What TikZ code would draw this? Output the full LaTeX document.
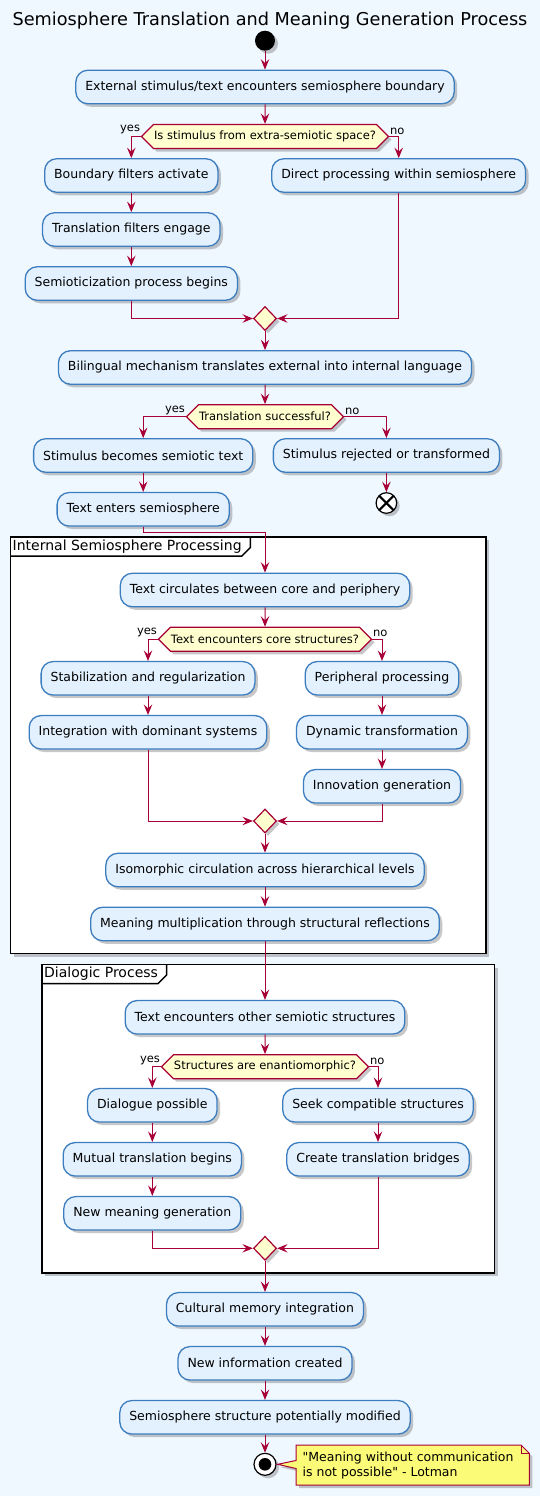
\documentclass[tikz,border=0pt]{standalone}
\usepackage{fontspec}
\setmainfont{DejaVu Sans}
\usetikzlibrary{arrows.meta,shapes.geometric,shapes.symbols,shadows,calc}
\definecolor{bgc}{HTML}{F0F8FF}
\definecolor{actf}{HTML}{E3F0FD}
\definecolor{actb}{HTML}{3C7DBF}
\definecolor{arrc}{HTML}{A80036}
\definecolor{dfill}{HTML}{FEFECE}
\definecolor{notef}{HTML}{FBFB77}
\tikzset{
  shd/.style={drop shadow={shadow xshift=3pt,shadow yshift=-3pt,opacity=0.22,fill=black}},
  act/.style={rectangle, rounded corners=12pt, draw=actb, fill=actf, line width=1.3pt,
    minimum height=33.5pt, inner xsep=9.5pt, text=black,
    font=\fontsize{12.5}{15}\selectfont, shd},
  dec/.style={signal, signal to=west and east, signal pointer angle=90, draw=arrc,
    fill=dfill, line width=1.2pt, minimum height=24pt, inner xsep=0.5pt, inner ysep=0pt,
    font=\fontsize{11.5}{13}\selectfont, shd},
  mrg/.style={diamond, draw=arrc, fill=dfill, line width=1.2pt, minimum width=23pt,
    minimum height=24pt, inner sep=0pt, shd},
  flow/.style={draw=arrc, line width=1pt, -{Stealth[length=10.5pt,width=8.5pt,inset=4pt]}},
  lbl/.style={font=\fontsize{11.5}{13}\selectfont, inner sep=0.5pt},
  grp/.style={draw=black, line width=1.8pt, fill=white, shd},
  grplbl/.style={font=\fontsize{14}{16}\selectfont, inner sep=0pt, anchor=west},
  notestyle/.style={draw=arrc, line width=1pt, fill=notef, shd},
}
\begin{document}
\begin{tikzpicture}[x=1pt,y=-1pt]
\fill[bgc] (0,0) rectangle (540,1496);
\useasboundingbox (0,0) rectangle (540,1496);

% groups
\draw[grp] (10.5,537) rectangle (486,953.5);
\node[grplbl] (g1lab) at (12.5,546.5) {Internal Semiosphere Processing};
\draw[black, line width=1.5pt] (10.5,556) -- (g1lab.east |- 0,556) -- ++(8.5,-8.5) -- ++(0,-10.5);
\draw[grp] (42,964.5) rectangle (494.5,1272.7);
\node[grplbl] (g2lab) at (44,973.8) {Dialogic Process};
\draw[black, line width=1.5pt] (42,983.5) -- (g2lab.east |- 0,983.5) -- ++(8.5,-8.5) -- ++(0,-10.5);

% title
\node[font=\fontsize{17.7}{20}\selectfont] (title) at (270,21) {Semiosphere Translation and Meaning Generation Process};

\node[circle, fill=black, minimum size=20pt, inner sep=0pt, shd] (start) at (265,40.7) {};
\node[act] (b1) at (265,87) {External stimulus/text encounters semiosphere boundary};
\node[dec] (d1) at (265,136.5) {Is stimulus from extra-semiotic space?};
\node[act] (b2) at (131.3,175.5) {Boundary filters activate};
\node[act] (b3) at (131.3,229.5) {Translation filters engage};
\node[act] (b4) at (131.3,283.5) {Semioticization process begins};
\node[act] (b5) at (398.7,175.5) {Direct processing within semiosphere};
\node[mrg] (m1) at (265,318.5) {};
\node[act] (b6) at (265,367.5) {Bilingual mechanism translates external into internal language};
\node[dec] (d2) at (265,416.7) {Translation successful?};
\node[act] (b7) at (143.2,455.5) {Stimulus becomes semiotic text};
\node[act] (b8) at (143.2,509.3) {Text enters semiosphere};
\node[act] (b9) at (386.4,455.5) {Stimulus rejected or transformed};
\node[circle, draw=black, fill=white, line width=1.2pt, minimum size=20.6pt, inner sep=0pt, shd,
  path picture={\draw[black, line width=2.2pt] (path picture bounding box.north west) -- (path picture bounding box.south east)
  (path picture bounding box.north east) -- (path picture bounding box.south west);}] (e1) at (386.4,503) {};

\node[act] (b10) at (265,590) {Text circulates between core and periphery};
\node[dec] (d3) at (265,639.3) {Text encounters core structures?};
\node[act] (b11) at (148,678.3) {Stabilization and regularization};
\node[act] (b12) at (148,732.3) {Integration with dominant systems};
\node[act] (b13) at (382,678.3) {Peripheral processing};
\node[act] (b14) at (382,732.3) {Dynamic transformation};
\node[act] (b15) at (382,786.3) {Innovation generation};
\node[mrg] (m2) at (265,821) {};
\node[act] (b16) at (265,870) {Isomorphic circulation across hierarchical levels};
\node[act] (b17) at (265,924) {Meaning multiplication through structural reflections};

\node[act] (b18) at (265,1017.3) {Text encounters other semiotic structures};
\node[dec] (d4) at (265,1066.7) {Structures are enantiomorphic?};
\node[act] (b19) at (152.3,1105.3) {Dialogue possible};
\node[act] (b20) at (152.3,1159.3) {Mutual translation begins};
\node[act] (b21) at (152.3,1213.3) {New meaning generation};
\node[act] (b22) at (378,1105.3) {Seek compatible structures};
\node[act] (b23) at (378,1159.3) {Create translation bridges};
\node[mrg] (m3) at (265,1248.3) {};
\node[act] (b24) at (265,1309.3) {Cultural memory integration};
\node[act] (b25) at (265,1363.3) {New information created};
\node[act] (b26) at (265,1417.3) {Semiosphere structure potentially modified};
\node[circle, draw=black, fill=white, line width=1.2pt, minimum size=22pt, inner sep=0pt, shd,
  path picture={\fill[black] (path picture bounding box.center) circle (6.3pt);}] (e2) at (265,1464.3) {};

% note
\coordinate (ntip) at ([xshift=1pt]e2.east);
\filldraw[notestyle] (296,1445) -- (521,1445) -- (529.3,1453.3) -- (529.3,1485) -- (296,1485)
  -- (296,1468.5) -- (ntip) -- (296,1460.5) -- cycle;
\draw[draw=arrc, line width=1pt] (521,1445) -- (521,1453.3) -- (529.3,1453.3);
\node[anchor=west, align=left, inner sep=0pt, font=\fontsize{12.5}{15.6}\selectfont] (notetext) at (302.5,1465.5)
  {\textquotedbl Meaning without communication\\is not possible\textquotedbl{} - Lotman};

% connectors
\draw[flow] (start) -- (b1);
\draw[flow] (b1) -- (d1);
\draw[flow] (d1.west) -| (b2.north);
\draw[flow] (d1.east) -| (b5.north);
\node[lbl, anchor=south east, yshift=1.5pt] (y1) at (d1.west) {yes};
\node[lbl, anchor=south west, yshift=1.5pt] (n1) at (d1.east) {no};
\draw[flow] (b2) -- (b3);
\draw[flow] (b3) -- (b4);
\draw[flow] (b4.south) |- (m1.west);
\draw[flow] (b5.south) |- (m1.east);
\draw[flow] (m1) -- (b6);
\draw[flow] (b6) -- (d2);
\draw[flow] (d2.west) -| (b7.north);
\draw[flow] (d2.east) -| (b9.north);
\node[lbl, anchor=south east, yshift=1.5pt] (y2) at (d2.west) {yes};
\node[lbl, anchor=south west, yshift=1.5pt] (n2) at (d2.east) {no};
\draw[flow] (b7) -- (b8);
\draw[flow] (b9) -- (e1);
\draw[flow] (b8.south) -- ++(0,6) -| (b10.north);
\draw[flow] (b10) -- (d3);
\draw[flow] (d3.west) -| (b11.north);
\draw[flow] (d3.east) -| (b13.north);
\node[lbl, anchor=south east, yshift=1.5pt] (y3) at (d3.west) {yes};
\node[lbl, anchor=south west, yshift=1.5pt] (n3) at (d3.east) {no};
\draw[flow] (b11) -- (b12);
\draw[flow] (b13) -- (b14);
\draw[flow] (b14) -- (b15);
\draw[flow] (b12.south) |- (m2.west);
\draw[flow] (b15.south) |- (m2.east);
\draw[flow] (m2) -- (b16);
\draw[flow] (b16) -- (b17);
\draw[flow] (b17) -- (b18);
\draw[flow] (b18) -- (d4);
\draw[flow] (d4.west) -| (b19.north);
\draw[flow] (d4.east) -| (b22.north);
\node[lbl, anchor=south east, yshift=1.5pt] (y4) at (d4.west) {yes};
\node[lbl, anchor=south west, yshift=1.5pt] (n4) at (d4.east) {no};
\draw[flow] (b19) -- (b20);
\draw[flow] (b20) -- (b21);
\draw[flow] (b22) -- (b23);
\draw[flow] (b21.south) |- (m3.west);
\draw[flow] (b23.south) |- (m3.east);
\draw[flow] (m3) -- (b24);
\draw[flow] (b24) -- (b25);
\draw[flow] (b25) -- (b26);
\draw[flow] (b26) -- (e2);
\end{tikzpicture}
\end{document}
